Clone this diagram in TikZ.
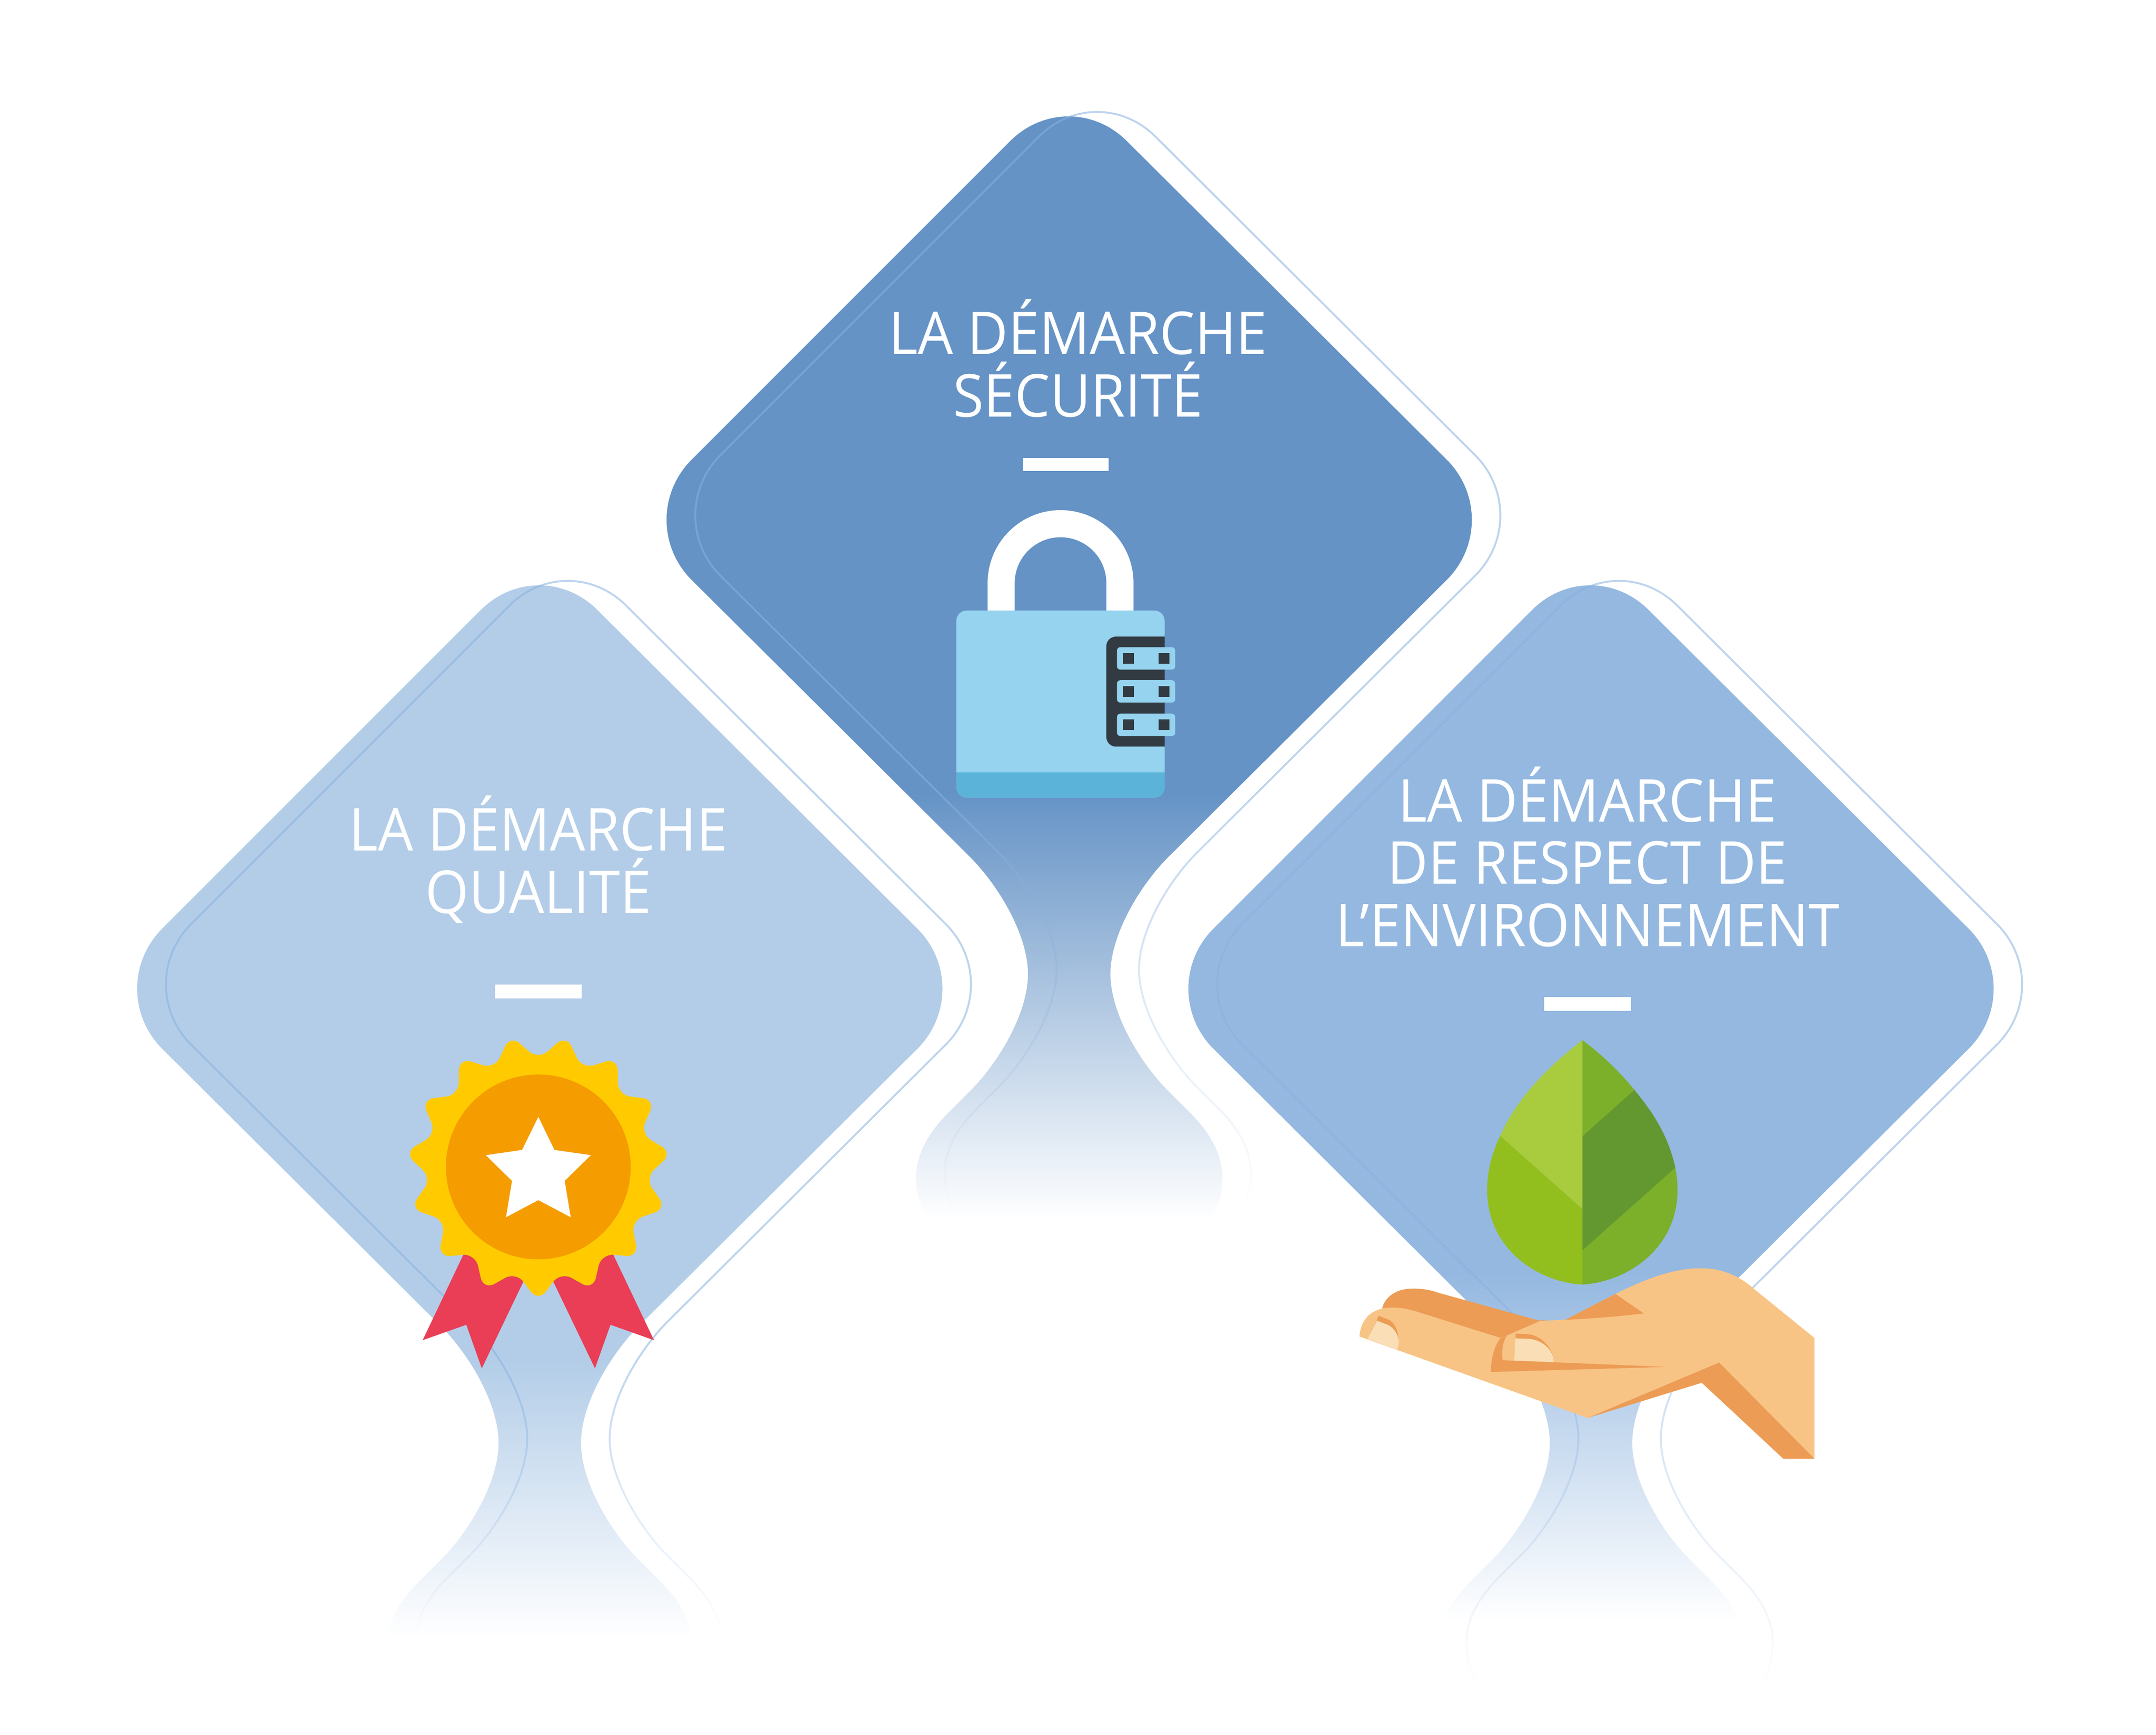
\documentclass[tikz,border=0pt]{standalone}
\usepackage{fontspec}
\setmainfont[FakeStretch=.945]{Open Sans}
\usetikzlibrary{fadings}
\definecolor{bleuqualite}{HTML}{B3CDE8}
\definecolor{bleusecurite}{HTML}{6593C6}
\definecolor{bleunature}{HTML}{94B8E0}
\definecolor{bleuligne}{HTML}{88B1E0}
\definecolor{skinlight}{HTML}{F8C485}
\definecolor{skindark}{HTML}{EC9C55}
\definecolor{skinnail}{HTML}{F9DEB6}
\definecolor{lockblue}{HTML}{95D3EE}
\definecolor{lockband}{HTML}{5BB3D9}
\definecolor{lockdark}{HTML}{323A42}
\definecolor{medalyellow}{HTML}{FFCB00}
\definecolor{medalorange}{HTML}{F59C00}
\definecolor{medalred}{HTML}{E93E55}
\definecolor{leafpale}{HTML}{A9CB3E}
\definecolor{leafbright}{HTML}{93BF1E}
\definecolor{leafmid}{HTML}{7CAF2A}
\definecolor{leafdark}{HTML}{639830}
\pgfdeclareverticalshading{masksecurite}{100bp}{color(0bp)=(black);color(25.7bp)=(black);color(44.6bp)=(white);color(100bp)=(white)}
\pgfdeclareverticalshading{maskqualite}{100bp}{color(0bp)=(black);color(27.95bp)=(black);color(40.25bp)=(white);color(100bp)=(white)}
\pgfdeclareverticalshading{masknature}{100bp}{color(0bp)=(black);color(28.7bp)=(black);color(44.1bp)=(white);color(100bp)=(white)}
\pgfdeclareverticalshading{masknatureline}{100bp}{color(0bp)=(black);color(25.2bp)=(black);color(44.1bp)=(white);color(100bp)=(white)}
\pgfdeclarefading{fadesecurite}{\pgfuseshading{masksecurite}}
\pgfdeclarefading{fadequalite}{\pgfuseshading{maskqualite}}
\pgfdeclarefading{fadenature}{\pgfuseshading{masknature}}
\pgfdeclarefading{fadenatureline}{\pgfuseshading{masknatureline}}
\newcommand{\demarchepath}{(-97,520) .. controls (-105,508) and (-111.5,495) .. (-111.5,479.5)
  .. controls (-111.5,460) and (-100,444) .. (-88,432) -- (-72,416)
  .. controls (-52,396) and (-30,360) .. (-30,331) .. controls (-30,302) and (-52,266) .. (-72,246)
  -- (-276,43) .. controls (-298.7,19) and (-298.7,-18) .. (-276,-42)
  -- (-43,-275) .. controls (-19,-299) and (18,-299) .. (42,-275)
  -- (276,-42) .. controls (298.7,-18) and (298.7,19) .. (276,43)
  -- (72,246) .. controls (52,266) and (30,302) .. (30,331) .. controls (30,360) and (52,396) .. (72,416)
  -- (88,432) .. controls (100,444) and (111.5,460) .. (111.5,479.5) .. controls (111.5,495) and (105,508) .. (97,520)}
\tikzset{titre/.style={text=white,align=center,inner sep=0pt,font=\fontsize{43}{45.4}\selectfont}}
\tikzset{barre/.style={fill=white}}
\tikzset{contour/.style={draw=bleuligne,line width=1.4pt,draw opacity=.55}}
\begin{document}
\begin{tikzpicture}[x=1pt,y=-1pt]
  \useasboundingbox (0,0) rectangle (1568,1261.4);
  % the three panels
  \fill[bleuqualite,path fading=fadequalite,shift={(393,718)}] \demarchepath -- cycle;
  \draw[contour,path fading=fadequalite,shift={(414,715)}] \demarchepath;
  \fill[bleunature,path fading=fadenature,shift={(1157.5,718)}] \demarchepath -- cycle;
  \draw[contour,path fading=fadenatureline,shift={(1178.5,715)}] \demarchepath;
  \fill[bleusecurite,path fading=fadesecurite,shift={(778,377)}] \demarchepath -- cycle;
  \draw[contour,path fading=fadesecurite,shift={(799,374)}] \demarchepath;
  % titles
  \node[titre] (securite) at (784,260.5) {LA DÉMARCHE\\SÉCURITÉ};
  \node[titre] (qualite) at (391.5,625) {LA DÉMARCHE\\QUALITÉ};
  \node[titre] (nature) at (1154.5,623) {LA DÉMARCHE\\DE RESPECT DE\\L’ENVIRONNEMENT};
  \fill[barre] (744,333) rectangle (806.3,342.5);
  \fill[barre] (360,716) rectangle (423,726);
  \fill[barre] (1123,725) rectangle (1186,735);
  % padlock
  \draw[white,line width=19.7pt] (728.1,444) -- (728.1,424) .. controls (728.1,400.1) and (747.4,380.8) .. (771.3,380.8)
    .. controls (795.2,380.8) and (814.5,400.1) .. (814.5,424) -- (814.5,444);
  \fill[lockblue,rounded corners=7.6pt] (695.5,443.9) rectangle (847,580);
  \fill[lockband] (695.5,561.7) {[rounded corners=7.6pt] -- (695.5,580) -- (847,580)} -- (847,561.7) -- cycle;
  \fill[lockdark] (847,462.9) {[rounded corners=7pt] -- (804.6,462.9) -- (804.6,542.9)} -- (847,542.9) -- cycle;
  \foreach \y in {470.6,494.6,518.9} {
    \fill[lockblue,rounded corners=2.5pt] (812.3,\y) rectangle (854.7,\y+16.3);
    \fill[lockdark] (816.6,\y+4.3) rectangle (824.6,\y+12.1);
    \fill[lockdark] (842.6,\y+4.3) rectangle (850.4,\y+12.1);
  }
  % medal
  \fill[medalred] (345,895.5) -- (390,912.4) -- (350.4,995) -- (339.1,963.3) -- (307.4,974.5) -- cycle;
  \fill[medalred] (438,895.5) -- (393,912.4) -- (432.7,995) -- (444,963.3) -- (475.6,974.5) -- cycle;
  \fill[medalyellow,rounded corners=9pt] ({391.5+78*cos(78)},{848.5+78*sin(78)})
    \foreach \k in {0,...,13} {
      -- ({391.5+98*cos(90+24*\k)},{848.5+98*sin(90+24*\k)})
      -- ({391.5+78*cos(102+24*\k)},{848.5+78*sin(102+24*\k)})
    } -- ({391.5+98*cos(66)},{848.5+98*sin(66)}) -- cycle;
  \fill[medalorange] (391.5,848.5) circle (67.2pt);
  \begin{scope}[shift={(281.2,743.3)},x=.1409pt,y=-.17295pt]
    \fill[white] (783,398) -- (866,537) -- (1054,559) -- (919,667) -- (950,820) -- (783,748)
      -- (616,820) -- (647,667) -- (512,559) -- (699,537) -- cycle;
  \end{scope}
  % leaf
  \begin{scope}[shift={(1064.7,743.3)},x=.1153pt,y=-.13452pt]
    \fill[leafpale] (747,97) .. controls (540,235) and (340,400) .. (228,614) -- (747,1010) -- cycle;
    \fill[leafbright] (228,614) .. controls (175,710) and (146,810) .. (146,905)
      .. controls (146,1230) and (470,1405) .. (747,1418) -- (747,1010) -- cycle;
    \fill[leafmid] (747,97) .. controls (870,175) and (985,270) .. (1075,366)
      -- (1333,786) .. controls (1343,830) and (1347,870) .. (1347,905)
      .. controls (1347,1230) and (1020,1405) .. (747,1418) -- cycle;
    \fill[leafdark] (747,617) -- (1075,366) .. controls (1200,495) and (1290,620) .. (1333,786) -- (747,1233) -- cycle;
  \end{scope}
  % hand
  \begin{scope}[shift={(964.3,904)},x=.2434pt,y=-.1153pt]
    \fill[skindark] (168,410) .. controls (178,330) and (215,286) .. (260,286) .. controls (295,286) and (320,300) .. (340,315)
      -- (640,490) -- (522,598) -- (268,430) -- cycle;
    \fill[skinlight] (100,588) .. controls (105,470) and (140,406) .. (197,406) .. controls (225,406) and (245,415) .. (268,430)
      -- (522,598) -- (640,490) -- (715,483) -- (865,320) .. controls (960,220) and (1040,158) .. (1120,158)
      .. controls (1190,158) and (1240,215) .. (1280,290) -- (1460,598) -- (1460,1360) -- (1175,752) -- (782,1102) -- cycle;
    \fill[skindark] (782,1102) -- (1175,752) -- (1460,1360) -- (1367,1360) -- (1123,880) -- cycle;
    \fill[skindark] (865,320) -- (950,443) .. controls (860,465) and (780,477) .. (715,483) -- cycle;
    \fill[skindark] (522,598) .. controls (505,640) and (493,720) .. (493,812) -- (1020,780) -- (528,738)
      .. controls (520,590) and (550,484) .. (670,484) -- (640,490) -- cycle;
    \fill[skindark] (567,570) -- (600,573) .. controls (640,575) and (680,660) .. (681,750) -- (563,740) -- cycle;
    \fill[skinnail] (565,600) -- (600,602) .. controls (645,605) and (680,670) .. (681,750) -- (563,740) -- cycle;
    \fill[skindark] (158,457) -- (190,485) .. controls (210,510) and (225,590) .. (212,672) -- (124,605) -- cycle;
    \fill[skinnail] (152,488) -- (185,515) .. controls (205,535) and (228,600) .. (212,672) -- (124,605) -- cycle;
  \end{scope}
\end{tikzpicture}
\end{document}
